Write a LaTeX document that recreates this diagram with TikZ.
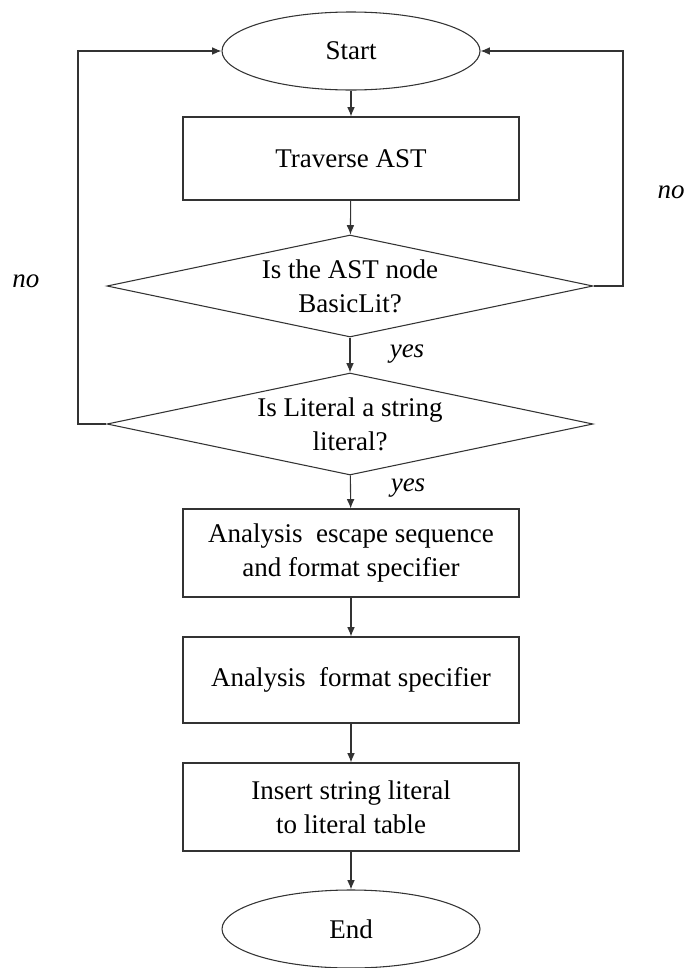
\documentclass[tikz,border=0pt]{standalone}
\usepackage{fontspec}
\setmainfont{Liberation Serif}
\usetikzlibrary{shapes.geometric,arrows.meta}

\newcommand{\flowfont}{\fontsize{20.25pt}{25.25pt}\selectfont}

\tikzset{
  flowline/.style={draw=black!80, line width=0.8pt},
  flowarrow/.style={flowline, -{Latex[length=7pt,width=5.8pt]}},
  terminal/.style={ellipse, flowline, inner sep=0pt,
    minimum width=193.5pt, minimum height=58.5pt, font=\flowfont},
  process/.style={rectangle, flowline, inner sep=0pt,
    minimum width=252pt, align=center, font=\flowfont},
  decision/.style={diamond, aspect=4.76, flowline, inner sep=0pt,
    minimum width=364.5pt, minimum height=76.5pt, align=center,
    font=\flowfont},
  branch/.style={font=\flowfont\itshape, inner sep=0pt}
}

\begin{document}
\begin{tikzpicture}[x=0.75pt, y=-0.75pt]
  \useasboundingbox (0,0) rectangle (684,968);

  % main column
  \node[terminal] (start) at (351,51) {Start};
  \node[process, minimum height=62.25pt] (trav) at (351,158.5) {Traverse AST};
  \node[decision] (isbasic) at (350,286) {Is the AST node\\BasicLit?};
  \node[decision] (isstr) at (350,424) {Is Literal a string\\literal?};
  \node[process, minimum height=66pt] (esc) at (351,553)
    {Analysis\hspace{0.25em} escape sequence\\and format specifier};
  \node[process, minimum height=64.5pt] (fmt) at (351,680)
    {Analysis\hspace{0.25em} format specifier};
  \node[process, minimum height=66pt] (ins) at (351,807)
    {Insert string literal\\to literal table};
  \node[terminal] (end) at (351,929) {End};

  % loop-back corners
  \coordinate (rtop) at (623,51);
  \coordinate (rbot) at (623,286);
  \coordinate (ltop) at (78,51);
  \coordinate (lbot) at (78,424);

  % straight connectors
  \draw[flowarrow] (start) -- (trav);
  \draw[flowarrow] (trav) -- (isbasic);
  \draw[flowarrow] (isbasic) -- (isstr);
  \draw[flowarrow] (isstr) -- (esc);
  \draw[flowarrow] (esc) -- (fmt);
  \draw[flowarrow] (fmt) -- (ins);
  \draw[flowarrow] (ins) -- (end);

  % "no" branches back to Start
  \draw[flowarrow] (isbasic.east) -- (rbot) -- (rtop) -- (start.east);
  \draw[flowarrow] (isstr.west) -- (lbot) -- (ltop) -- (start.west);

  % branch labels
  \node[branch] (yes1) at (407,354) {yes};
  \node[branch] (yes2) at (408,488) {yes};
  \node[branch] (noleft) at (26,281) {no};
  \node[branch] (noright) at (671,192) {no};
\end{tikzpicture}
\end{document}
